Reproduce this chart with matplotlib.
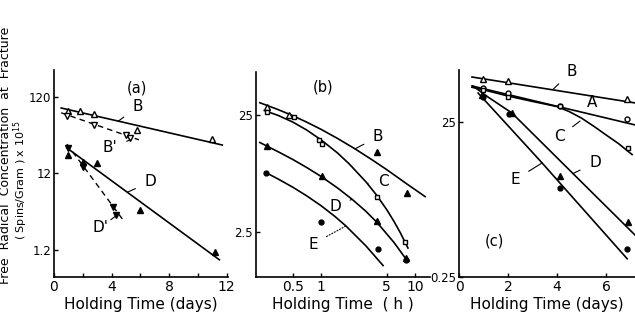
import matplotlib
matplotlib.use("Agg")
import matplotlib.pyplot as plt

# ---- panel (a): holding time in days ----
a_B_x = [1.0, 1.8, 2.8, 5.8, 11.0]
a_B_y = [78.7, 78.7, 72.0, 44.3, 34.0]
a_Bp_x = [0.9, 2.8, 5.0, 5.3]
a_Bp_y = [67.6, 51.8, 38.0, 35.0]
a_D_x = [1.0, 2.0, 3.0, 6.0, 11.2]
a_D_y = [21.0, 17.0, 16.6, 4.0, 1.12]
a_Dp_x = [1.0, 2.0, 4.1, 4.3]
a_Dp_y = [25.8, 14.6, 4.4, 3.4]
a_fitB_x, a_fitB_y = [0.5, 11.7], [86.0, 28.2]
a_fitBp_x, a_fitBp_y = [0.5, 5.9], [74.4, 33.0]
a_fitD_x, a_fitD_y = [0.9, 11.5], [25.8, 0.89]
a_fitDp_x, a_fitDp_y = [0.9, 4.8], [29.0, 2.96]

# ---- panel (b): holding time in hours (log) ----
b_B_open_x, b_B_open_y = [0.27, 0.46], [29.3, 25.0]
b_B_x, b_B_y = [3.94, 8.2], [12.0, 5.4]
b_C_x = [0.27, 0.52, 0.95, 1.02, 3.94, 7.8]
b_C_y = [26.5, 24.0, 15.3, 14.1, 5.0, 2.03]
b_D_x = [0.266, 1.02, 3.94, 8.0]
b_D_y = [13.6, 7.5, 3.1, 1.5]
b_E_x = [0.26, 1.0, 4.04, 8.0]
b_E_y = [7.9, 3.05, 1.77, 1.45]
b_fitB_x = [0.224, 0.35, 0.5, 0.7, 1.0, 1.5, 2.3, 3.5, 5.0, 8.0, 12.8]
b_fitB_y = [31.7, 27.7, 24.6, 21.7, 18.8, 15.7, 12.8, 10.3, 8.5, 6.5, 5.0]
b_fitC_x = [0.25, 0.35, 0.5, 0.7, 1.0, 1.5, 2.0, 3.0, 3.9, 5.0, 6.0, 7.0, 8.4]
b_fitC_y = [27.2, 24.7, 21.7, 18.6, 15.3, 11.8, 9.5, 6.7, 5.15, 3.87, 3.05, 2.44, 1.82]
b_fitD_x = [0.224, 0.35, 0.5, 0.7, 1.0, 1.5, 2.14, 3.0, 3.94, 6.0, 8.4]
b_fitD_y = [14.5, 12.1, 10.4, 8.9, 7.45, 5.93, 4.75, 3.75, 3.01, 2.02, 1.39]
b_fitE_x = [0.254, 0.35, 0.5, 0.7, 1.0, 1.4, 1.84, 3.0, 4.57]
b_fitE_y = [8.1, 7.08, 6.03, 5.1, 4.19, 3.4, 2.81, 1.9, 1.29]

# ---- panel (c): holding time in days ----
c_B_x, c_B_y = [0.98, 2.0, 6.86], [89.7, 84.0, 49.5]
c_A_x, c_A_y = [0.98, 2.0, 4.1, 6.86], [68.6, 59.0, 40.4, 27.3]
c_C_x, c_C_y = [0.98, 2.0, 4.1, 6.9], [64.7, 52.4, 40.0, 11.5]
c_D_x, c_D_y = [0.94, 2.16, 4.12, 6.9], [55.7, 32.6, 5.0, 1.29]
c_E_x, c_E_y = [0.98, 2.04, 4.1, 6.86], [52.4, 31.7, 3.5, 0.58]
c_fitB_x, c_fitB_y = [0.53, 7.18], [95.0, 44.0]
c_fitA_x, c_fitA_y = [0.53, 7.18], [72.8, 22.9]
c_fitC_x = [0.53, 1.0, 2.0, 3.0, 4.0, 4.5, 5.0, 5.5, 6.0, 6.5, 7.06]
c_fitC_y = [70.0, 65.0, 54.0, 46.0, 39.5, 34.0, 28.0, 22.0, 17.0, 13.2, 9.5]
c_fitD_x, c_fitD_y = [0.57, 1.2, 2.16, 4.65, 7.18], [72.8, 52.0, 32.6, 5.4, 0.87]
c_fitE_x, c_fitE_y = [0.78, 3.39, 6.86], [59.0, 7.4, 0.43]

W, H = 635, 321
fig = plt.figure(figsize=(W / 100, H / 100), dpi=100)
plt.rcParams['font.family'] = 'DejaVu Sans'

def make_ax(left, right, top, bottom=277):
    ax = fig.add_axes([left / W, 1 - bottom / H, (right - left) / W, (bottom - top) / H])
    ax.spines['top'].set_visible(False)
    ax.spines['right'].set_visible(False)
    for s in ('left', 'bottom'):
        ax.spines[s].set_linewidth(1.2)
    ax.tick_params(direction='in', length=3, width=1, labelsize=8.5, pad=2)
    ax.set_yscale('log')
    ax.minorticks_off()
    return ax

lw = 1.2
ms = 4
k = 'black'

def label(ax, txt, xy, xytext, ls='-'):
    ax.annotate(txt, xy=xy, xytext=xytext, fontsize=11, ha='center', va='center',
                arrowprops=dict(arrowstyle='-', lw=0.8, color=k, ls=ls, shrinkA=5, shrinkB=0))

# (a)
ax = make_ax(54, 228, 70)
ax.plot(a_fitB_x, a_fitB_y, '-', color=k, lw=lw)
ax.plot(a_fitBp_x, a_fitBp_y, '--', color=k, lw=1.0, dashes=(4, 3))
ax.plot(a_fitD_x, a_fitD_y, '-', color=k, lw=lw)
ax.plot(a_fitDp_x, a_fitDp_y, '--', color=k, lw=1.0, dashes=(4, 3))
ax.plot(a_B_x, a_B_y, '^', mfc='white', mec=k, ms=ms, ls='none')
ax.plot(a_Bp_x, a_Bp_y, 'v', mfc='white', mec=k, ms=ms, ls='none')
ax.plot(a_D_x, a_D_y, '^', color=k, ms=ms, ls='none')
ax.plot(a_Dp_x, a_Dp_y, 'v', color=k, ms=ms, ls='none')
ax.set_xlim(0, 12.1)
ax.set_ylim(0.53, 270)
ax.set_xticks([0, 2, 4, 6, 8, 10, 12])
ax.set_xticklabels(['0', '', '4', '', '8', '', '12'], fontsize=10)
ax.set_yticks([1.2, 12, 120])
ax.set_yticklabels(['1.2', '12', '120'])
ax.text(5.8, 157, '(a)', fontsize=10.5, ha='center', va='center')
label(ax, 'B', (4.48, 58), (5.8, 88.8))
label(ax, "B'", (5.3, 33), (3.9, 25.8))
label(ax, 'D', (5.1, 6.8), (6.7, 9.3))
label(ax, "D'", (4.27, 3.3), (3.2, 2.33))
ax.set_xlabel('Holding Time (days)', fontsize=11, labelpad=2)

# (b)
ax = make_ax(256, 430, 72)
ax.set_xscale('log')
ax.minorticks_off()
for fx, fy in [(b_fitB_x, b_fitB_y), (b_fitC_x, b_fitC_y),
               (b_fitD_x, b_fitD_y), (b_fitE_x, b_fitE_y)]:
    ax.plot(fx, fy, '-', color=k, lw=lw)
ax.plot(b_B_open_x, b_B_open_y, '^', mfc='white', mec=k, ms=ms, ls='none')
ax.plot(b_B_x, b_B_y, '^', color=k, ms=ms, ls='none')
ax.plot(b_C_x, b_C_y, 's', mfc='white', mec=k, ms=3.5, ls='none')
ax.plot(b_D_x, b_D_y, '^', color=k, ms=ms, ls='none')
ax.plot(b_E_x, b_E_y, 'o', color=k, ms=3.5, ls='none')
ax.set_xlim(0.204, 14.4)
ax.set_ylim(1.03, 58)
ax.set_xticks([0.5, 1, 5, 10])
ax.set_xticklabels(['0.5', '1', '5', '10'], fontsize=10)
ax.set_yticks([2.5, 25])
ax.set_yticklabels(['2.5', '25'])
ax.text(1.05, 43, '(b)', fontsize=10.5, ha='center', va='center')
label(ax, 'B', (2.3, 12.8), (4.04, 16.2))
label(ax, 'C', (3.16, 6.5), (4.57, 6.8))
label(ax, 'D', (2.14, 4.75), (1.41, 4.1))
label(ax, 'E', (1.84, 2.81), (0.82, 1.97), ls=':')
ax.set_xlabel('Holding Time  ( h )', fontsize=11, labelpad=2)

# (c)
ax = make_ax(459, 635, 70)
ax.plot(c_fitB_x, c_fitB_y, '-', color=k, lw=lw)
for fx, fy in [(c_fitA_x, c_fitA_y), (c_fitC_x, c_fitC_y),
               (c_fitD_x, c_fitD_y), (c_fitE_x, c_fitE_y)]:
    ax.plot(fx, fy, '-', color=k, lw=lw)
ax.plot(c_B_x, c_B_y, '^', mfc='white', mec=k, ms=ms, ls='none')
ax.plot(c_A_x, c_A_y, 'o', mfc='white', mec=k, ms=3.5, ls='none')
ax.plot(c_C_x, c_C_y, 's', mfc='white', mec=k, ms=3.5, ls='none')
ax.plot(c_D_x, c_D_y, '^', color=k, ms=ms, ls='none')
ax.plot(c_E_x, c_E_y, 'o', color=k, ms=3.5, ls='none')
ax.set_xlim(0, 7.18)
ax.set_ylim(0.25, 117)
ax.set_xticks([0, 2, 4, 6])
ax.set_xticklabels(['0', '2', '4', '6'], fontsize=10)
ax.set_yticks([0.25, 25])
ax.set_yticklabels(['0.25', '25'])
ax.text(1.43, 0.73, '(c)', fontsize=10.5, ha='center', va='center')
label(ax, 'B', (3.84, 66), (4.6, 113))
label(ax, 'A', (4.86, 34.5), (5.43, 44))
label(ax, 'C', (4.94, 25.7), (4.08, 16))
label(ax, 'D', (4.65, 5.4), (5.55, 7.4))
label(ax, 'E', (3.39, 7.4), (2.29, 4.5))
ax.set_xlabel('Holding Time (days)', fontsize=11, labelpad=2)

# shared y label (two lines)
fig.text(6 / W, 1 - 155 / H, 'Free  Radical  Concentration  at  Fracture',
         rotation=90, ha='center', va='center', fontsize=9)
fig.text(21 / W, 1 - 180 / H, r'( Spins/Gram ) x 10$^{15}$',
         rotation=90, ha='center', va='center', fontsize=8)

fig.savefig('out.png', dpi=100)
